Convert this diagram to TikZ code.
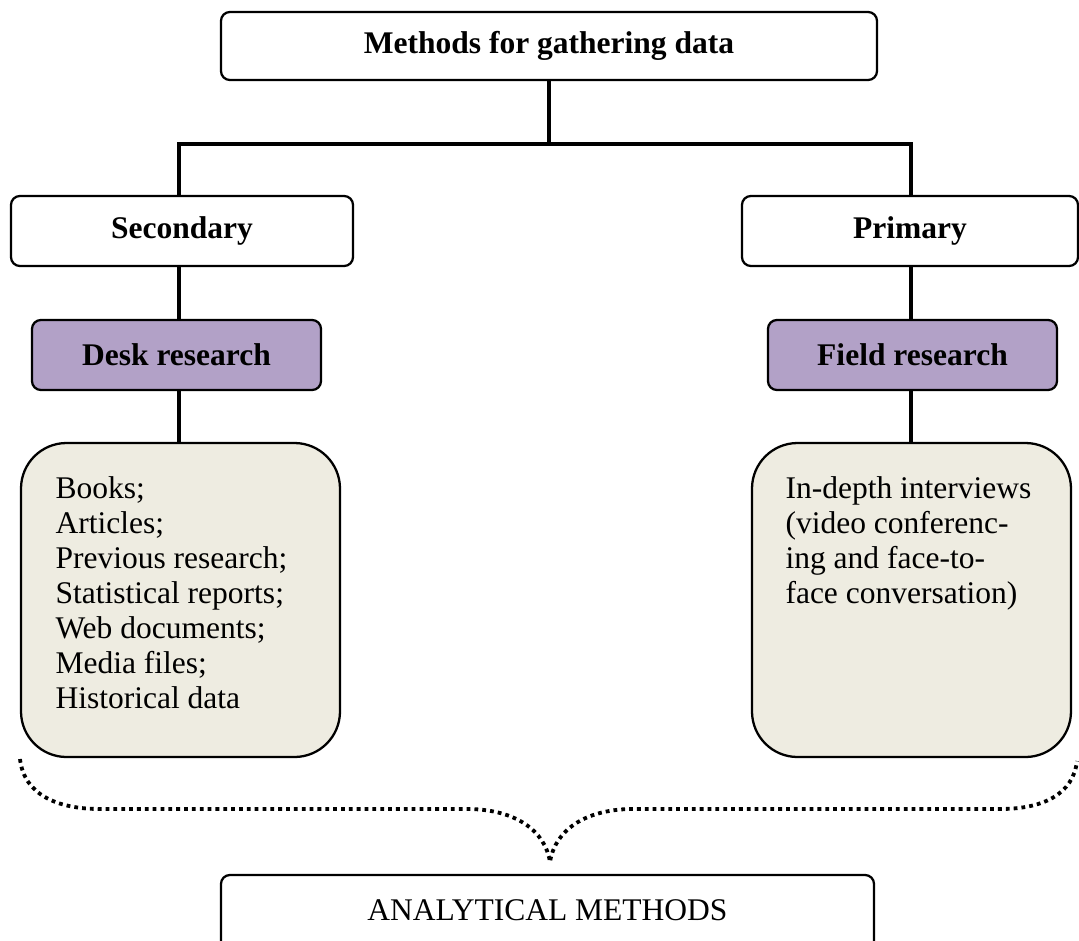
\documentclass[tikz,border=0pt]{standalone}
\usepackage{fontspec}
\setmainfont{Liberation Serif}
\definecolor{lavender}{HTML}{B2A1C7}
\definecolor{parchment}{HTML}{EEECE1}
\begin{document}
\begin{tikzpicture}[x=0.395pt, y=-0.395pt,
  pxsize/.style 2 args={minimum width={#1*0.395pt}, minimum height={#2*0.395pt}},
  txt/.style={font=\fontsize{12.45}{13.8}\selectfont},
  hbox/.style={draw, line width=0.9pt, rounded corners=3.5pt, inner sep=0pt, fill=white,
               font=\fontsize{12.45}{13.8}\selectfont\bfseries},
  plainbox/.style={draw, line width=0.9pt, rounded corners=3.5pt, inner sep=0pt, fill=white, txt},
  listbox/.style={draw, line width=0.9pt, rounded corners=18pt, fill=parchment, inner sep=0pt},
  listtext/.style={txt, anchor=north west, inner sep=0pt, align=left},
  link/.style={line width=1.25pt},
  dotbrace/.style={line width=1.5pt, dash pattern=on 1.5pt off 1.6pt}]
\clip (0,0) rectangle (1079,940);

% connector rails
\coordinate (split) at (549,144);
\coordinate (hl) at (179,144);
\coordinate (hr) at (911,144);

% boxes
\node[hbox, pxsize={656}{68}] (top) at (549,46) {Methods for gathering data};
\node[hbox, pxsize={342}{70}] (sec) at (182,231) {Secondary};
\node[hbox, pxsize={336}{70}] (prim) at (910,231) {Primary};
\node[hbox, fill=lavender, pxsize={289}{70}] (desk) at (176.5,355) {Desk research};
\node[hbox, fill=lavender, pxsize={289}{70}] (field) at (912.5,355) {Field research};
\node[listbox, pxsize={319}{314}] (desklist) at (180.5,600) {};
\node[listbox, pxsize={319}{314}] (fieldlist) at (911.5,600) {};
\node[listtext] (desktext) at (55,476.5) {Books;\\Articles;\\Previous research;\\Statistical reports;\\Web documents;\\Media files;\\Historical data};
\node[listtext] (fieldtext) at (785,476.5) {In-depth interviews\\(video conferenc-\\ing and face-to-\\face conversation)};
\node[plainbox, pxsize={653}{76}] (anal) at (547.5,913) {\raisebox{2.4pt}{ANALYTICAL METHODS}};

% tree connectors
\draw[link] (top.south) -- (split);
\draw[link] (hl |- sec.north) -- (hl) -- (hr) -- (hr |- prim.north);
\draw[link] (hl |- sec.south) -- (hl |- desk.north);
\draw[link] (hl |- desk.south) -- (hl |- desklist.north);
\draw[link] (hr |- prim.south) -- (hr |- field.north);
\draw[link] (hr |- field.south) -- (hr |- fieldlist.north);

% dotted brace gathering both branches
\coordinate (bl) at (20,759);
\coordinate (blh) at (100,809);
\coordinate (bml) at (470,809);
\coordinate (tip) at (550,862);
\coordinate (bmr) at (630,809);
\coordinate (brh) at (1000,809);
\coordinate (br) at (1077,761);
\draw[dotbrace] (bl) .. controls (24,795) and (58,809) .. (blh) -- (bml)
  .. controls (515,810) and (545,830) .. (tip)
  .. controls (555,830) and (585,810) .. (bmr) -- (brh)
  .. controls (1042,809) and (1073,795) .. (br);
\end{tikzpicture}
\end{document}
